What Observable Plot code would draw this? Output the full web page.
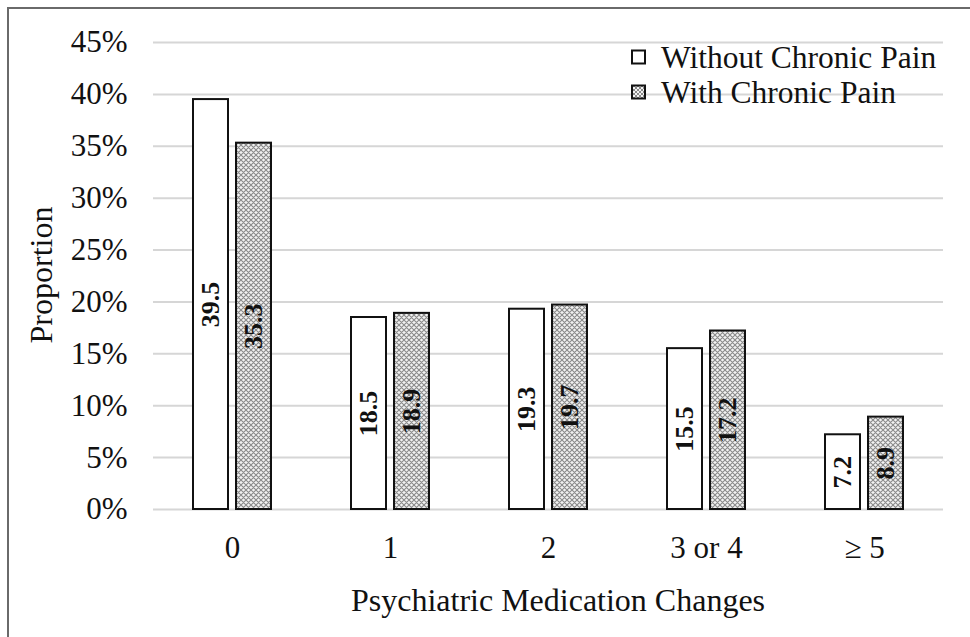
<!DOCTYPE html>
<html>
<head>
<meta charset="utf-8">
<script src="https://cdn.jsdelivr.net/npm/d3@7"></script>
<script src="https://cdn.jsdelivr.net/npm/@observablehq/plot@0.6"></script>
<style>
  html, body { margin: 0; padding: 0; background: #fff; }
  body { width: 970px; height: 637px; position: relative; overflow: hidden;
         font-family: "Liberation Serif", "Times New Roman", serif; color: #111; }
  #frame { position: absolute; left: 7px; top: 7px; right: -10px; bottom: -10px;
           border-top: 2px solid #6a6a6a; border-left: 2px solid #6a6a6a; }
  #chart { position: absolute; left: 0; top: 0; }
  #chart svg { font-family: "Liberation Serif", "Times New Roman", serif; overflow: visible; }
  .title { position: absolute; font-family: "Liberation Serif", "Times New Roman", serif; font-size: 32px; color: #111; white-space: nowrap; line-height: 1; }
  #xtitle { left: 558px; top: 600px; transform: translate(-50%, -50%); }
  #ytitle { left: 41px; top: 275px; transform: translate(-50%, -50%) rotate(-90deg); }
</style>
</head>
<body>
<div id="frame"></div>
<div id="chart"></div>
<div class="title" id="xtitle">Psychiatric Medication Changes</div>
<div class="title" id="ytitle">Proportion</div>
<script>
// ---- data ----
const categories = ["0", "1", "2", "3 or 4", "\u2265 5"];
const groups = ["Without Chronic Pain", "With Chronic Pain"];
const withoutPain = [39.5, 18.5, 19.3, 15.5, 7.2];
const withPain = [35.3, 18.9, 19.7, 17.2, 8.9];
const yTicks = [0, 5, 10, 15, 20, 25, 30, 35, 40, 45];

const rows = [];
categories.forEach((c, i) => {
  rows.push({cat: c, group: groups[0], value: withoutPain[i]});
  rows.push({cat: c, group: groups[1], value: withPain[i]});
});

const serif = "Liberation Serif, Times New Roman, serif";

const chart = Plot.plot({
  width: 970,
  height: 637,
  marginTop: 42,
  marginBottom: 128,
  marginLeft: 152,
  marginRight: 27,
  style: {fontFamily: serif, background: "transparent", color: "#111"},
  fx: {domain: categories, padding: 0, label: null},
  x: {domain: groups, paddingInner: 0.18, paddingOuter: 0.89, axis: null},
  y: {domain: [0, 45], label: null},
  color: {domain: groups, range: ["white", "url(#hatch)"]},
  marks: [
    Plot.gridY(yTicks, {stroke: "#d6d6d6", strokeOpacity: 1, strokeWidth: 2}),
    Plot.axisY(yTicks, {tickSize: 0, tickPadding: 26, fontSize: 31, tickFormat: d => d + "%", label: null}),
    Plot.axisFx({anchor: "bottom", tickSize: 0, tickPadding: 26, fontSize: 31, label: null}),
    Plot.barY(rows, {fx: "cat", x: "group", y: "value", fill: "group", stroke: "#111", strokeWidth: 2}),
    Plot.text(rows, {
      fx: "cat", x: "group", y: d => d.value / 2,
      text: d => d.value.toFixed(1),
      rotate: -90, fontSize: 26, fontWeight: "bold", fill: "#111", fontFamily: serif
    })
  ]
});

// hatch pattern
const svg = d3.select(chart);
const defs = svg.insert("defs", ":first-child");
const pat = defs.append("pattern").attr("id", "hatch").attr("patternUnits", "userSpaceOnUse")
  .attr("width", 5).attr("height", 5);
pat.append("rect").attr("width", 5).attr("height", 5).attr("fill", "#f2f2f2");
pat.append("path").attr("d", "M0,0L5,5M5,0L0,5M-1,4L1,6M4,-1L6,1M4,6L6,4M-1,1L1,-1")
  .attr("stroke", "#8a8a8a").attr("stroke-width", 1.1).attr("fill", "none");
const pat2 = defs.append("pattern").attr("id", "hatch2").attr("patternUnits", "userSpaceOnUse")
  .attr("width", 4).attr("height", 4);
pat2.append("rect").attr("width", 4).attr("height", 4).attr("fill", "#f2f2f2");
pat2.append("path").attr("d", "M0,0L4,4M4,0L0,4").attr("stroke", "#8a8a8a").attr("stroke-width", 1);

// legend (inside the plot, top right)
const lg = svg.append("g").attr("class", "legend").attr("text-anchor", "start");
groups.forEach((g, i) => {
  const cy = 57 + i * 35;
  lg.append("rect").attr("x", 632).attr("y", cy - 6.5).attr("width", 13).attr("height", 13)
    .attr("fill", i === 0 ? "white" : "url(#hatch2)").attr("stroke", "#111").attr("stroke-width", 2);
  lg.append("text").attr("x", 661).attr("y", cy).attr("dy", "0.34em")
    .attr("text-anchor", "start")
    .attr("font-family", serif).attr("font-size", 31.5).attr("fill", "#111").text(g);
});

document.getElementById("chart").appendChild(chart);
</script>
</body>
</html>
